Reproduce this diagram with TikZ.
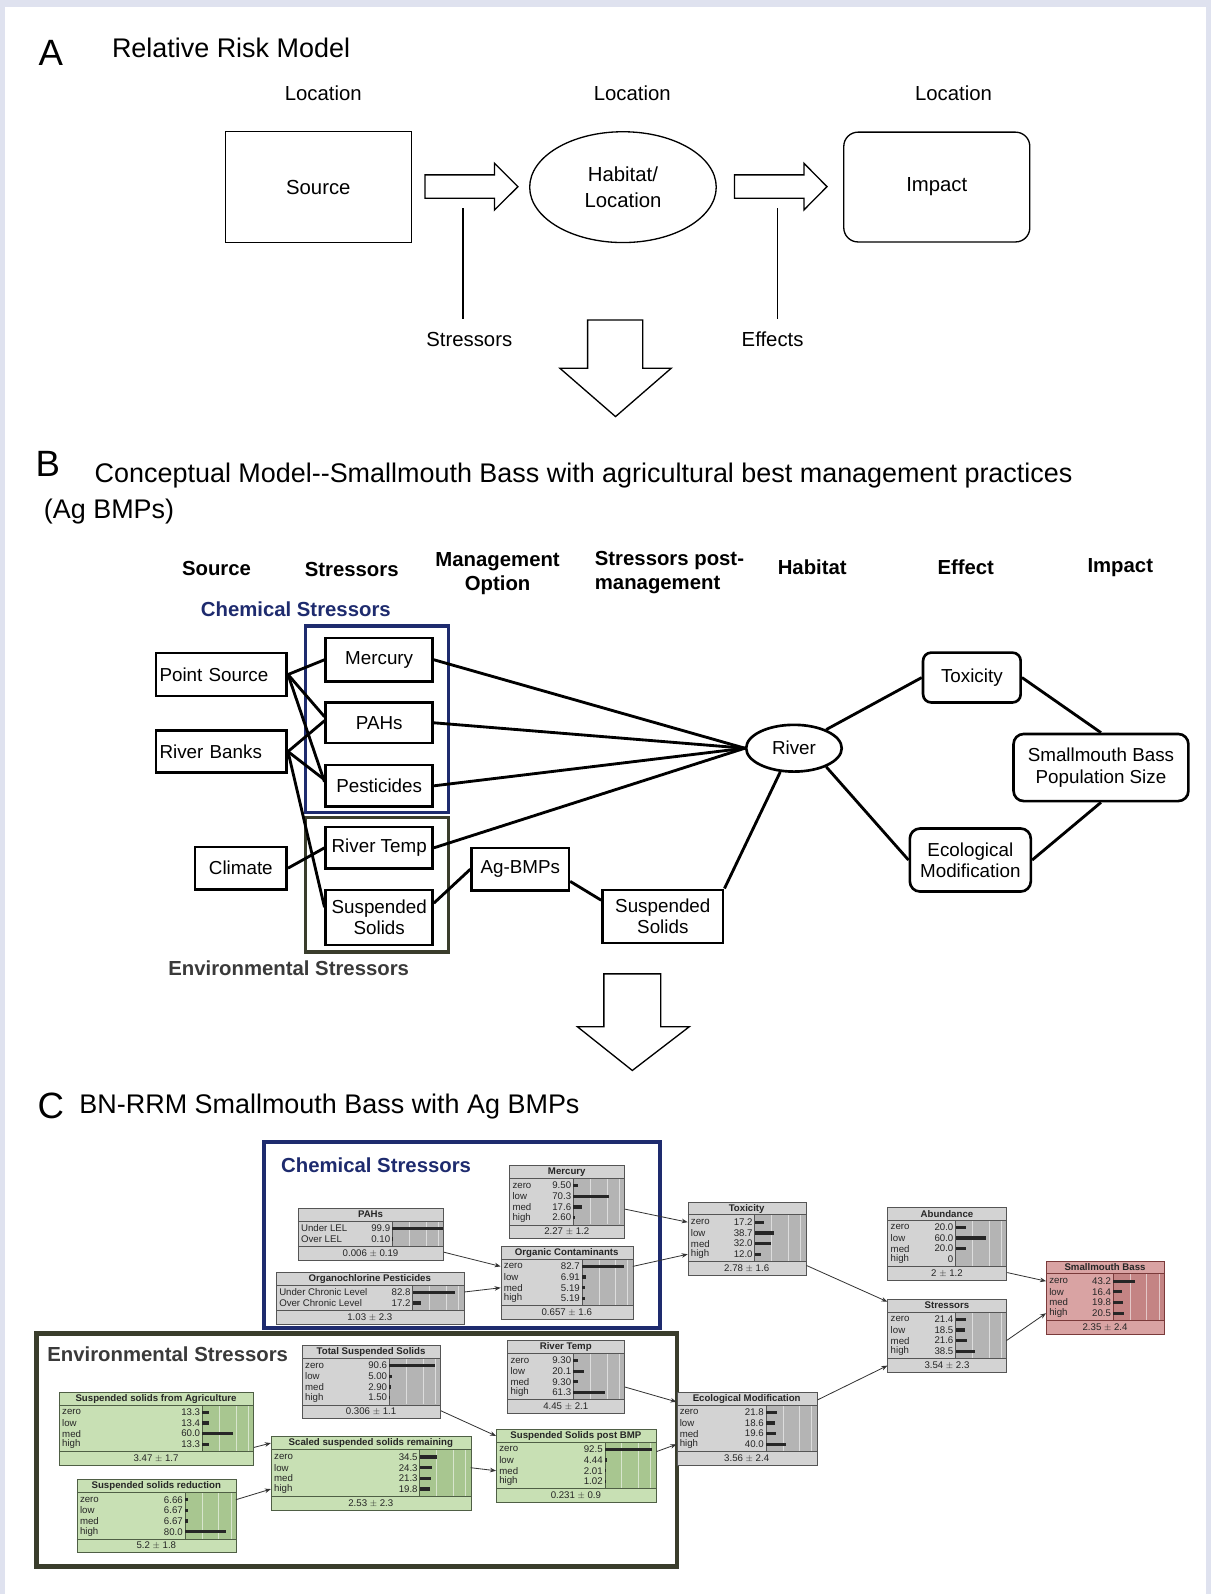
\documentclass[tikz,border=0pt]{standalone}
\usepackage{fontspec}
\setmainfont{Liberation Sans}
\usetikzlibrary{calc,shapes.geometric,arrows.meta}
\definecolor{framecol}{HTML}{DFE2EF}
\definecolor{navy}{HTML}{1E2B6E}
\definecolor{oliveD}{HTML}{3A3D2C}
\definecolor{envtxt}{HTML}{3A3A3A}
\definecolor{bnGfill}{HTML}{D3D3D3}
\definecolor{bnGbar}{HTML}{B4B4B4}
\definecolor{bnGdraw}{HTML}{555555}
\definecolor{bnVfill}{HTML}{C8E0B4}
\definecolor{bnVbar}{HTML}{A8C690}
\definecolor{bnVdraw}{HTML}{4F5F45}
\definecolor{bnRfill}{HTML}{D9A3A3}
\definecolor{bnRbar}{HTML}{C48484}
\definecolor{bnRdraw}{HTML}{7A3A3A}
\tikzset{
 biglbl/.style={font=\fontsize{36}{40}\selectfont, inner sep=0},
 ttl/.style={font=\fontsize{26.5}{30}\selectfont, anchor=west, inner sep=0},
 atext/.style={font=\fontsize{20}{24}\selectfont, inner sep=0},
 ashape/.style={draw, line width=1.3, font=\fontsize{20}{25}\selectfont, align=center, inner sep=0},
 hdr/.style={font=\bfseries\fontsize{20}{24}\selectfont, align=center, inner sep=0},
 bbox/.style={draw, line width=2.6, font=\fontsize{18.5}{21}\selectfont, align=center, inner sep=0},
 bline/.style={line width=2.8},
 hollow/.style={draw, line width=1.3, fill=white},
 bnbox/.style={line width=0.8, inner sep=0},
 bntitle/.style={font=\bfseries\fontsize{9.5}{10}\selectfont, inner sep=0, text=black!85},
 bntext/.style={font=\fontsize{9.5}{10}\selectfont, inner sep=0, text=black!85},
 bnarr/.style={draw=black!80, line width=0.8, -{Stealth[length=6pt,width=4.5pt]}},
}
% #1 name, #2 x, #3 y, #4 width, #5 colour key, #6 title, #7 rows, #8 footer
\newcommand\bnnode[8]{%
\begin{scope}[shift={(#2,#3)}]
  \foreach \l/\v/\f [count=\i] in {#7} {\xdef\bncount{\i}}
  \pgfmathsetmacro\bnre{17+\bncount*10.5}
  \pgfmathsetmacro\bnh{\bnre+13}
  \node[bnbox, fill=bn#5fill, draw=bn#5draw, minimum width=#4, minimum height=\bnh, anchor=north west] (#1) at (0,0) {};
  \fill[bn#5bar] (#4-50,13) rectangle (#4,\bnre);
  \foreach \g in {0.33,0.66,0.9} {\draw[white!55!bn#5bar, line width=0.5] (#4-50+50*\g,13.5) -- (#4-50+50*\g,\bnre-0.5);}
  \draw[bn#5draw, line width=0.7] (0,13) -- (#4,13);
  \draw[bn#5draw, line width=0.7] (0,\bnre) -- (#4,\bnre);
  \draw[bn#5draw, line width=0.7] (#4-50,13) -- (#4-50,\bnre);
  \node[bntitle] at (#4/2,6.8) {#6};
  \foreach \l/\v/\f [count=\i] in {#7} {
    \pgfmathsetmacro\yy{15+(\i-0.5)*10.5}
    \node[bntext, anchor=west] at (3,\yy) {\l};
    \node[bntext, anchor=east] at (#4-52,\yy) {\v};
    \fill[black!85] (#4-50,\yy-1.6) rectangle (#4-50+\f*50,\yy+1.6);
    \coordinate (#1-w\i) at (0,\yy);
    \coordinate (#1-e\i) at (#4,\yy);
  }
  \node[bntext] at (#4/2,\bnre+6.7) {#8};
\end{scope}}

\begin{document}
\begin{tikzpicture}[x=1pt,y=-1pt]
\useasboundingbox (0,0) rectangle (1191,1568);
\fill[white] (0,0) rectangle (1191,1568);
\fill[framecol] (0,0) rectangle (1191,7);
\fill[framecol] (0,0) rectangle (5,1568);
\fill[framecol] (1186,0) rectangle (1191,1568);

% ---------------- Part A ----------------
\node[biglbl] (lblA) at (50,52) {A};
\node[ttl] (titA) at (110,47) {Relative Risk Model};
\node[atext] (loc1) at (318,92) {Location};
\node[atext] (loc2) at (622,92) {Location};
\node[atext] (loc3) at (938,92) {Location};
\node[ashape, minimum width=183, minimum height=109] (src) at (313.1,184.1) {Source};
\node[ashape, ellipse, minimum width=183.5, minimum height=109] (hab) at (612.8,184.1) {Habitat/\\Location};
\node[ashape, rounded corners=14, minimum width=183, minimum height=108] (imp) at (921.5,184) {Impact};
\draw[hollow] (418,172) -- (486.5,172) -- (486.5,160.6) -- (509.5,183.6) -- (486.5,206.5) -- (486.5,195) -- (418,195) -- cycle;
\draw[hollow] (722.5,172) -- (790.8,172) -- (790.8,160.6) -- (813.5,183.6) -- (790.8,206.5) -- (790.8,195) -- (722.5,195) -- cycle;
\node[atext] (strlab) at (461.6,334) {Stressors};
\node[atext] (efflab) at (760,334) {Effects};
\coordinate (strtop) at (455.6,205);
\coordinate (strbot) at (455.6,314);
\coordinate (efftop) at (764.7,205);
\coordinate (effbot) at (764.7,314);
\draw[line width=1.6] (strtop) -- (strbot);
\draw[line width=1.6] (efftop) -- (effbot);
\draw[hollow] (578,314.7) -- (632.3,314.7) -- (632.3,362.2) -- (660.3,362.2) -- (605.5,409.8) -- (550.7,362.2) -- (578,362.2) -- cycle;

% ---------------- Part B ----------------
\node[biglbl] (lblB) at (47,456) {B};
\node[ttl] (titB) at (93,468) {Conceptual Model-{}-Smallmouth Bass with agricultural best management practices};
\node[ttl] (titB2) at (43,503) {(Ag BMPs)};
\node[hdr] (h1) at (213,559) {Source};
\node[hdr] (h2) at (346,560) {Stressors};
\node[hdr] (h3) at (489.5,564) {Management\\Option};
\node[hdr, align=left, anchor=west] (h4) at (585,563.5) {Stressors post-\\management};
\node[hdr] (h5) at (799,558) {Habitat};
\node[hdr] (h6) at (950,558) {Effect};
\node[hdr] (h7) at (1102,558) {Impact};
\node[hdr, text=navy] (chemB) at (291,599) {Chemical Stressors};
\node[hdr, text=envtxt] (envB) at (284,952) {Environmental Stressors};
\draw[navy, line width=3.2] (300.6,615.7) rectangle (440.9,799.6);
\draw[oliveD, line width=3.2] (300.6,804.5) rectangle (440.9,936.5);

\node[bbox, minimum height=42, text width=121.6, inner xsep=3.5, align=left] (ps) at (217.7,663.5) {Point Source};
\node[bbox, minimum height=41.4, text width=121.6, inner xsep=3.5, align=left] (rb) at (217.7,739.3) {River Banks};
\node[bbox, minimum width=90.2, minimum height=42] (clim) at (236.9,854) {Climate};
\node[bbox, minimum width=105, minimum height=43] (bmerc) at (373,649) {Mercury};
\node[bbox, minimum width=105, minimum height=40] (bpahs) at (373,711) {PAHs};
\node[bbox, minimum width=105, minimum height=41] (bpest) at (373,773) {Pesticides};
\node[bbox, minimum width=105, minimum height=41] (brt) at (373,834) {River Temp};
\node[bbox, minimum width=105, minimum height=54] (bss) at (373,902.4) {Suspended\\Solids};
\node[bbox, minimum width=95.6, minimum height=42] (agb) at (511.8,855) {Ag-BMPs};
\node[bbox, minimum width=118.7, minimum height=52.4] (bssp) at (652,901.5) {Suspended\\Solids};
\node[bbox, ellipse, minimum width=94, minimum height=46] (river) at (781,736) {River};
\node[bbox, rounded corners=8, minimum width=96, minimum height=49] (btox) at (956,666.5) {Toxicity};
\node[bbox, rounded corners=10, minimum width=172, minimum height=66, font=\fontsize{18.5}{22}\selectfont] (bsmb) at (1083,755) {Smallmouth Bass\\Population Size};
\node[bbox, rounded corners=10, minimum width=119, minimum height=62] (beco) at (954.5,846) {Ecological\\Modification};

\draw[bline] (ps.east) -- (bmerc.west);
\draw[bline] (ps.east) -- ($(bpahs.west)+(0,-6)$);
\draw[bline] (ps.east) -- ($(bpest.west)+(0,-4)$);
\draw[bline] (rb.east) -- ($(bpahs.west)+(0,-2)$);
\draw[bline] (rb.east) -- ($(bpest.west)+(0,-6)$);
\draw[bline] (rb.east) -- ($(bss.west)+(0,-10)$);
\draw[bline] (clim.east) -- (brt.west);
\draw[bline] (bmerc.east) -- (river.west);
\draw[bline] (bpahs.east) -- (river.west);
\draw[bline] (bpest.east) -- (river.west);
\draw[bline] (brt.east) -- (river.west);
\draw[bline] ($(bss.east)+(0,-14)$) -- (agb.west);
\draw[bline] ($(agb.east)+(0,12)$) -- ($(bssp.west)+(0,-16)$);
\draw[bline] (bssp.north east) -- (river.240);
\draw[bline] (river.30) -- (btox.west);
\draw[bline] (river.-30) -- (beco.west);
\draw[bline] (btox.east) -- (bsmb.north);
\draw[bline] (beco.east) -- (bsmb.south);
\draw[hollow] (594,958) -- (650,958) -- (650,1010) -- (678,1010) -- (622,1053) -- (568,1010) -- (594,1010) -- cycle;

% ---------------- Part C ----------------
\node[biglbl] (lblC) at (50,1088) {C};
\node[ttl] (titC) at (78,1088) {BN-RRM Smallmouth Bass with Ag BMPs};
\draw[navy, line width=4] (260,1123) rectangle (649,1306);
\draw[oliveD, line width=4.5] (36,1312) rectangle (666,1541);
\node[hdr, text=navy] (chemC) at (370,1146) {Chemical Stressors};
\node[hdr, text=envtxt] (envC) at (165,1332) {Environmental Stressors};

\bnnode{pahs}{293}{1188}{143}{G}{PAHs}{Under LEL/99.9/0.999, Over LEL/0.10/0.001}{0.006 $\pm$ 0.19}
\bnnode{ocp}{271.5}{1251}{184.5}{G}{Organochlorine Pesticides}{Under Chronic Level/82.8/0.828, Over Chronic Level/17.2/0.172}{1.03 $\pm$ 2.3}
\bnnode{merc}{501}{1146}{113}{G}{Mercury}{zero/9.50/0.095, low/70.3/0.703, med/17.6/0.176, high/2.60/0.026}{2.27 $\pm$ 1.2}
\bnnode{orgc}{492.5}{1225.5}{130}{G}{Organic Contaminants}{zero/82.7/0.827, low/6.91/0.069, med/5.19/0.052, high/5.19/0.052}{0.657 $\pm$ 1.6}
\bnnode{tox}{676.5}{1182}{116}{G}{Toxicity}{zero/17.2/0.172, low/38.7/0.387, med/32.0/0.32, high/12.0/0.12}{2.78 $\pm$ 1.6}
\bnnode{abund}{873}{1187}{117}{G}{Abundance}{zero/20.0/0.2, low/60.0/0.6, med/20.0/0.2, high/0/0}{2 $\pm$ 1.2}
\bnnode{strs}{873}{1277.5}{117}{G}{Stressors}{zero/21.4/0.214, low/18.5/0.185, med/21.6/0.216, high/38.5/0.385}{3.54 $\pm$ 2.3}
\bnnode{smb}{1029}{1240}{116}{R}{Smallmouth Bass}{zero/43.2/0.432, low/16.4/0.164, med/19.8/0.198, high/20.5/0.205}{2.35 $\pm$ 2.4}
\bnnode{tss}{297}{1323}{136}{G}{Total Suspended Solids}{zero/90.6/0.906, low/5.00/0.05, med/2.90/0.029, high/1.50/0.015}{0.306 $\pm$ 1.1}
\bnnode{rtemp}{499}{1318}{115}{G}{River Temp}{zero/9.30/0.093, low/20.1/0.201, med/9.30/0.093, high/61.3/0.613}{4.45 $\pm$ 2.1}
\bnnode{ssag}{58}{1369}{191}{V}{Suspended solids from Agriculture}{zero/13.3/0.133, low/13.4/0.134, med/60.0/0.6, high/13.3/0.133}{3.47 $\pm$ 1.7}
\bnnode{ssred}{75.5}{1455}{156.5}{V}{Suspended solids reduction}{zero/6.66/0.067, low/6.67/0.067, med/6.67/0.067, high/80.0/0.8}{5.2 $\pm$ 1.8}
\bnnode{scaled}{266.5}{1413}{196.5}{V}{Scaled suspended solids remaining}{zero/34.5/0.345, low/24.3/0.243, med/21.3/0.213, high/19.8/0.198}{2.53 $\pm$ 2.3}
\bnnode{sspost}{488}{1405.5}{157}{V}{Suspended Solids post BMP}{zero/92.5/0.925, low/4.44/0.044, med/2.01/0.02, high/1.02/0.01}{0.231 $\pm$ 0.9}
\bnnode{ecomod}{665.5}{1369}{138}{G}{Ecological Modification}{zero/21.8/0.218, low/18.6/0.186, med/19.6/0.196, high/40.0/0.4}{3.56 $\pm$ 2.4}

\draw[bnarr] ($(pahs.south east)+(0,-8)$) -- (orgc-w1);
\draw[bnarr] ($(ocp.east)+(0,-6)$) -- (orgc-w3);
\draw[bnarr] ($(merc.east)+(0,7)$) -- (tox-w1);
\draw[bnarr] (orgc-e1) -- (tox-w4);
\draw[bnarr] ($(tox.south east)+(0,-10)$) -- ($(strs.north west)+(0,3)$);
\draw[bnarr] ($(abund.south east)+(0,-8)$) -- (smb-w1);
\draw[bnarr] (strs-e3) -- (smb-w4);
\draw[bnarr] ($(ecomod.north east)+(0,8)$) -- ($(strs.south west)+(0,-7)$);
\draw[bnarr] ($(rtemp.east)+(0,10)$) -- ($(ecomod.north west)+(0,10)$);
\draw[bnarr] ($(sspost.east)+(0,-14)$) -- (ecomod-w4);
\draw[bnarr] ($(tss.south east)+(0,-8)$) -- ($(sspost.north west)+(0,7)$);
\draw[bnarr] (scaled-e2) -- (sspost-w3);
\draw[bnarr] ($(ssag.south east)+(0,-18)$) -- ($(scaled.north west)+(0,6.5)$);
\draw[bnarr] (ssred-e1) -- (scaled-w4);
\end{tikzpicture}
\end{document}
